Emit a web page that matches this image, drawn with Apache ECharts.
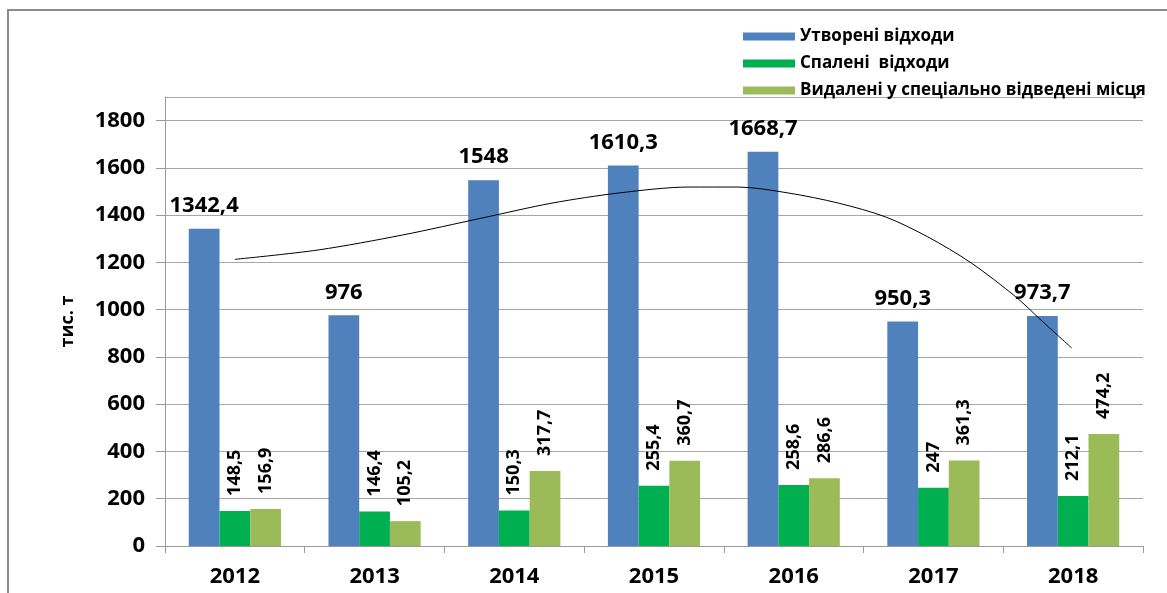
<!DOCTYPE html>
<html>
<head>
<meta charset="utf-8">
<script src="https://cdn.jsdelivr.net/npm/echarts@6/dist/echarts.min.js"></script>
<style>
  html, body { margin: 0; padding: 0; background: #fff; }
  #chart { width: 1167px; height: 593px; }
</style>
</head>
<body>
<div id="chart"></div>
<script>
// дані
var years = ['2012', '2013', '2014', '2015', '2016', '2017', '2018'];
var utvoreni = [1342.4, 976, 1548, 1610.3, 1668.7, 950.3, 973.7];
var spaleni = [148.5, 146.4, 150.3, 255.4, 258.6, 247, 212.1];
var vydaleni = [156.9, 105.2, 317.7, 360.7, 286.6, 361.3, 474.2];
// лінія тренду (x = індекс року)
var trendX = [0, 0.6, 1.2, 1.77, 2.27, 2.75, 3.25, 3.6, 3.96, 4.32, 4.66, 4.96, 5.27, 5.59, 5.77, 5.99];
var trendY = [1213, 1253, 1316, 1388, 1451, 1494, 1519, 1519, 1494, 1451, 1392, 1308, 1198, 1054, 956, 838];

var fontFam = '"Open Sans", "Noto Sans", sans-serif';

function fmt(p) {
  return String(p.value).replace('.', ',');
}

var trendData = trendX.map(function (x, i) { return [x, trendY[i]]; });

var myChart = echarts.init(document.getElementById('chart'));

var option = {
  animation: false,
  textStyle: { fontFamily: fontFam },
  graphic: [{
    type: 'rect',
    shape: { x: 8, y: 10, width: 1400, height: 800 },
    style: { fill: 'none', stroke: '#8c8c8c', lineWidth: 2 }
  }],
  legend: {
    orient: 'vertical',
    left: 738,
    top: 22,
    itemWidth: 52,
    itemHeight: 8,
    itemGap: 8,
    icon: 'rect',
    data: ['Утворені відходи', 'Спалені  відходи', 'Видалені у спеціально відведені місця'],
    textStyle: { fontSize: 17, fontWeight: 'bold', color: '#000', lineHeight: 19, fontFamily: fontFam }
  },
  grid: { left: 165, right: 24, top: 97, bottom: 47 },
  xAxis: [{
    type: 'category',
    data: years,
    axisLine: { lineStyle: { color: '#999', width: 1 } },
    axisTick: { show: true, length: 7, lineStyle: { color: '#999' } },
    axisLabel: { fontSize: 22, fontWeight: 'bold', color: '#000', margin: 20, fontFamily: fontFam }
  }, {
    // прихована вісь для лінії тренду
    type: 'value',
    min: -0.5,
    max: 6.5,
    show: false
  }],
  yAxis: {
    type: 'value',
    min: 0,
    max: 1900,
    interval: 200,
    name: 'тис. т',
    nameLocation: 'middle',
    nameGap: 88,
    nameRotate: 90,
    nameTextStyle: { fontSize: 18, fontWeight: 'bold', color: '#000', fontFamily: fontFam },
    axisLine: { show: true, onZero: false, lineStyle: { color: '#999', width: 1 } },
    axisTick: { show: true, length: 9, lineStyle: { color: '#999' } },
    axisLabel: {
      fontSize: 22, fontWeight: 'bold', color: '#000', margin: 20, showMaxLabel: false, fontFamily: fontFam,
      formatter: function (v) { return String(v); }
    },
    splitLine: { lineStyle: { color: '#a6a6a6', width: 1 } }
  },
  series: [{
    name: 'Утворені відходи',
    type: 'bar',
    data: utvoreni,
    barGap: '0%',
    barCategoryGap: '34%',
    itemStyle: { color: '#4F81BD' },
    label: {
      show: true,
      position: 'top',
      distance: 12,
      formatter: fmt,
      fontSize: 22,
      fontWeight: 'bold',
      color: '#000',
      fontFamily: fontFam
    }
  }, {
    name: 'Спалені  відходи',
    type: 'bar',
    data: spaleni,
    itemStyle: { color: '#00B050' },
    label: {
      show: true,
      position: 'top',
      rotate: 90,
      align: 'left',
      verticalAlign: 'middle',
      distance: 15,
      formatter: fmt,
      fontSize: 18,
      fontWeight: 'bold',
      color: '#000',
      fontFamily: fontFam
    }
  }, {
    name: 'Видалені у спеціально відведені місця',
    type: 'bar',
    data: vydaleni,
    itemStyle: { color: '#9BBB59' },
    label: {
      show: true,
      position: 'top',
      rotate: 90,
      align: 'left',
      verticalAlign: 'middle',
      distance: 15,
      formatter: fmt,
      fontSize: 18,
      fontWeight: 'bold',
      color: '#000',
      fontFamily: fontFam
    }
  }, {
    name: 'тренд',
    type: 'line',
    xAxisIndex: 1,
    data: trendData,
    smooth: 0.3,
    showSymbol: false,
    silent: true,
    lineStyle: { color: '#000', width: 1 },
    z: 5
  }]
};

myChart.setOption(option);
</script>
</body>
</html>
